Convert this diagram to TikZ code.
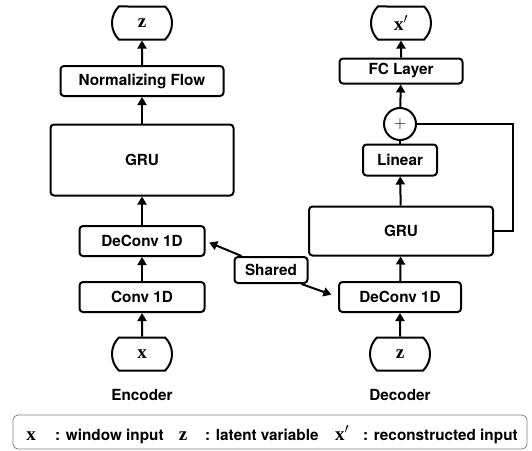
\documentclass[tikz,border=0pt]{standalone}
\usepackage{fontspec}
\setsansfont{TeX Gyre Heros}
\newfontfamily\symfont{Liberation Serif}
\usetikzlibrary{arrows.meta}
\usetikzlibrary{shapes.misc}

\newcommand{\vx}{{\symfont\bfseries x}}
\newcommand{\vz}{{\symfont\bfseries z}}
\newcommand{\vxp}{{\symfont\bfseries x}$'$}

\begin{document}
\begin{tikzpicture}[x=1pt,y=-1pt]

\tikzset{
    box/.style = {
    draw, line width=2pt, rounded corners=3.5pt,
    font=\fontsize{15.3}{18}\selectfont\sffamily\bfseries
    }
}

\tikzstyle{couche}=[box, minimum width=125pt, minimum height=30pt]
\tikzstyle{terminal}=[draw, line width=2pt, rounded rectangle, rounded rectangle arc length=90, minimum width=60pt, minimum height=33pt, inner sep=0pt, font=\fontsize{19}{20}\selectfont]
\tikzstyle{fleche}=[-{Triangle[length=8pt,width=9pt]}, line width=2pt]
\tikzstyle{titre}=[inner sep=0pt, font=\fontsize{15.3}{18}\selectfont\sffamily\bfseries]
\tikzstyle{symbole}=[inner sep=0pt, font=\fontsize{19}{20}\selectfont]

\useasboundingbox (0,0) rectangle (532,450);

% encodeur
\node (x-in) [terminal] at (142,354) {\vx};
\node (conv-e) [couche] at (142,297) {Conv 1D};
\node (deconv-e) [couche] at (142,241) {DeConv 1D};
\node (gru-e) [box, minimum width=183pt, minimum height=71pt] at (142,160) {GRU};
\node (flow) [box, minimum width=163pt, minimum height=30pt] at (142,81) {Normalizing Flow};
\node (z-out) [terminal] at (142,23) {\vz};
\node (enc) [titre, anchor=base] at (142,400) {Encoder};

% decodeur
\node (z-in) [terminal] at (400,354) {\vz};
\node (deconv-d) [couche, minimum width=122pt] at (400,297) {DeConv 1D};
\node (gru-d) [box, minimum width=184pt, minimum height=49pt] at (401,231) {GRU};
\node (linear) [box, minimum width=74pt, minimum height=31pt] at (400,160) {Linear};
\node (plus) [draw, circle, line width=2pt, minimum size=32pt, inner sep=0pt, font=\fontsize{16}{18}\selectfont] at (400,124) {$+$};
\node (fc) [box, minimum width=123pt, minimum height=25pt] at (401,71) {FC Layer};
\node (x-out) [terminal] at (401,23) {\vxp};
\node (dec) [titre, anchor=base] at (400,400) {Decoder};

\node (shared) [box, minimum width=73pt, minimum height=26pt, inner sep=2pt] at (271,270) {Shared};

\draw[fleche] (x-in)--(conv-e);
\draw[fleche] (conv-e)--(deconv-e);
\draw[fleche] (deconv-e)--(gru-e);
\draw[fleche] (gru-e)--(flow);
\draw[fleche] (flow)--(z-out);

\draw[fleche] (z-in)--(deconv-d);
\draw[fleche] (deconv-d)--(gru-d);
\draw[fleche] (gru-d)--(linear);
\draw[line width=2pt] (linear)--(plus);
\draw[fleche] (plus)--(fc);
\draw[fleche] (fc)--(x-out);

\coordinate (retour) at (513,124);
\draw[line width=2pt] (gru-d.east) -| (retour) -- (plus.east);

\draw[fleche, shorten >=4pt] ([xshift=8pt]shared.north west) -- (deconv-e.east);
\draw[fleche, shorten >=7pt] ([xshift=-7pt]shared.south east) -- (deconv-d.west);

% legende
\node (legende) [draw=gray, line width=0.8pt, rounded corners=5pt, minimum width=514pt, minimum height=34pt] at (270,432) {};
\node (l-x) [symbole, anchor=base] at (31,440) {\vx};
\node (l-x-txt) [titre, anchor=base west] at (55,440) {: window input};
\node (l-z) [symbole, anchor=base] at (183,440) {\vz};
\node (l-z-txt) [titre, anchor=base west] at (205,440) {: latent variable};
\node (l-xp) [symbole, anchor=base] at (342,440) {\vxp};
\node (l-xp-txt) [titre, anchor=base west] at (363,440) {: reconstructed input};

\end{tikzpicture}
\end{document}
